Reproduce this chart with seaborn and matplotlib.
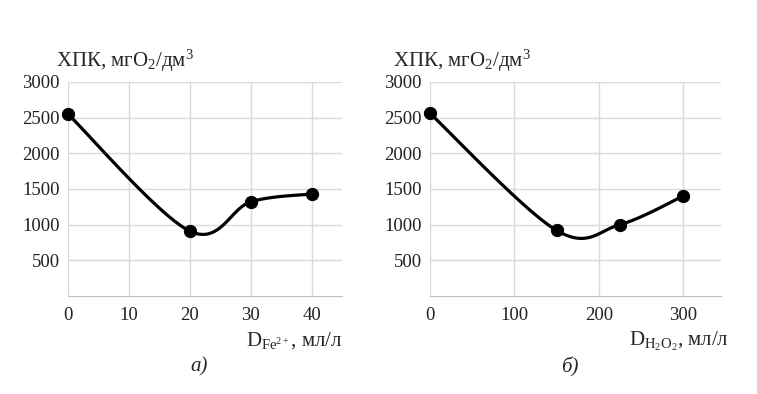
import numpy as np
import pandas as pd
import matplotlib
matplotlib.use("Agg")
import matplotlib.pyplot as plt
import seaborn as sns

# data
fe_dose = [0, 20, 30, 40]
fe_cod = [2550, 910, 1320, 1430]
h2o2_dose = [0, 150, 225, 300]
h2o2_cod = [2560, 920, 1000, 1400]

y_ticks = [500, 1000, 1500, 2000, 2500, 3000]
fe_ticks = [0, 10, 20, 30, 40]
h2o2_ticks = [0, 100, 200, 300]

sns.set_style("white")
plt.rcParams['font.family'] = ['Liberation Serif', 'DejaVu Serif']
plt.rcParams['mathtext.fontset'] = 'custom'
plt.rcParams['mathtext.rm'] = 'Liberation Serif'
plt.rcParams['mathtext.it'] = 'Liberation Serif:italic'


def smooth(xs, ys, n=40):
    # Excel-style smoothed line: cubic Bezier through the points
    p = np.column_stack([xs, ys]).astype(float)
    p = np.vstack([p[0], p, p[-1]])
    out = []
    for i in range(1, len(p) - 2):
        p0, p1, p2, p3 = p[i - 1], p[i], p[i + 1], p[i + 2]
        b1 = p1 + (p2 - p0) / 6
        b2 = p2 - (p3 - p1) / 6
        t = np.linspace(0, 1, n)[:, None]
        seg = ((1 - t) ** 3 * p1 + 3 * (1 - t) ** 2 * t * b1
               + 3 * (1 - t) * t ** 2 * b2 + t ** 3 * p2)
        out.append(seg)
    c = np.vstack(out)
    return pd.DataFrame({"x": c[:, 0], "y": c[:, 1]})


def panel(ax, xs, ys, xticks, xmax, xlabel, tag, title_x, label_x):
    curve = smooth(xs, ys)
    sns.lineplot(data=curve, x="x", y="y", ax=ax, color="black", lw=2.3,
                 sort=False, estimator=None)
    sns.scatterplot(x=xs, y=ys, ax=ax, color="black", s=78, zorder=5,
                    edgecolor="black", clip_on=False)
    ax.set_xlim(0, xmax)
    ax.set_ylim(0, 3000)
    ax.set_xticks(xticks)
    ax.set_yticks(y_ticks)
    ax.grid(True, color="#d9d9d9", lw=1)
    for s in ["top", "right", "left"]:
        ax.spines[s].set_visible(False)
    ax.spines["bottom"].set_color("#bfbfbf")
    ax.tick_params(axis="both", length=0, labelsize=13.5, colors="#222222")
    ax.tick_params(axis="x", pad=8)
    ax.tick_params(axis="y", pad=6)
    ax.set_xlabel("")
    ax.set_ylabel("")
    ax.text(title_x, 1.07, "ХПК, мгO$_2$/дм$^3$", transform=ax.transAxes,
            fontsize=15, ha="left", va="baseline")
    ax.text(label_x, -0.232, xlabel, transform=ax.transAxes, fontsize=15,
            ha="right", va="baseline")
    ax.text(0.48, -0.285, tag, transform=ax.transAxes, fontsize=15,
            ha="center", va="top", style="italic")


fig = plt.figure(figsize=(7.57, 3.94), dpi=100)
ax1 = fig.add_axes([0.0898, 0.2487, 0.362, 0.5433])
ax2 = fig.add_axes([0.568, 0.2487, 0.3845, 0.5433])

panel(ax1, fe_dose, fe_cod, fe_ticks, 45,
      "D$_{\\mathrm{Fe^{2+}}}$, мл/л", "а)", -0.044, 1.0)
panel(ax2, h2o2_dose, h2o2_cod, h2o2_ticks, 345,
      "D$_{\\mathrm{H_2O_2}}$, мл/л", "б)", -0.127, 1.025)

fig.savefig("out.png", dpi=100)
